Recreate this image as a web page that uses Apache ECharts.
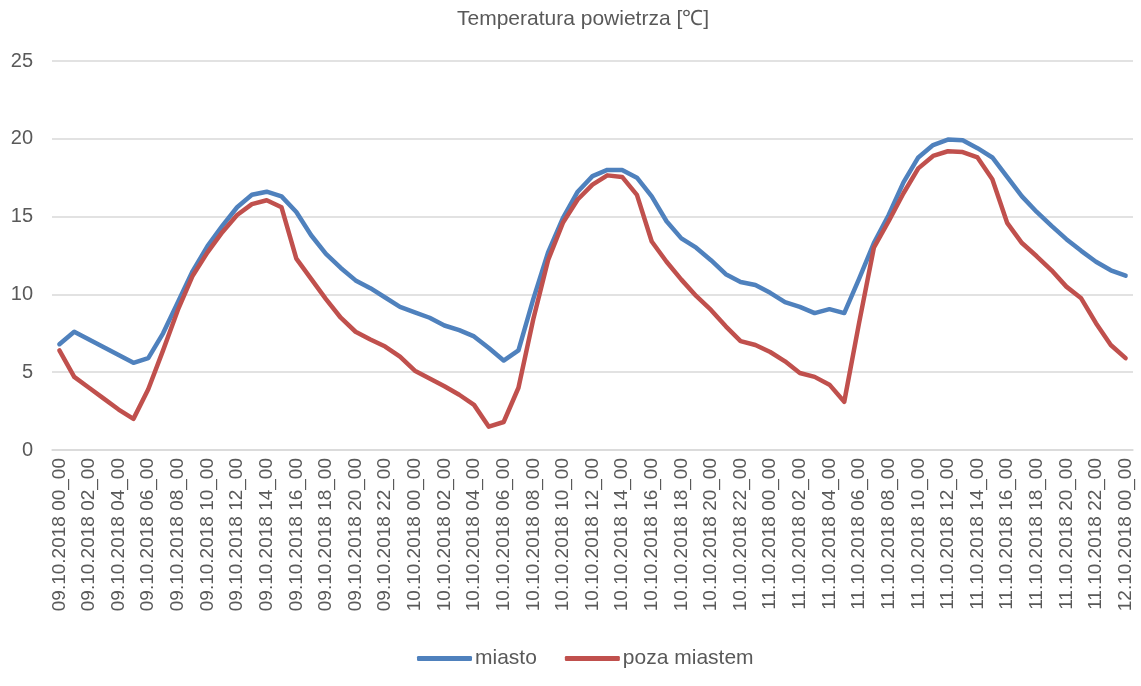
<!DOCTYPE html>
<html>
<head>
<meta charset="utf-8">
<script src="https://cdn.jsdelivr.net/npm/echarts@6/dist/echarts.min.js"></script>
<style>
  html, body { margin: 0; padding: 0; background: #fff; }
  #chart { width: 1141px; height: 686px; }
</style>
</head>
<body>
<div id="chart"></div>
<script>
// godziny pomiarów: 09.10.2018 00_00 ... 12.10.2018 00_00
const days = ["09.10.2018", "10.10.2018", "11.10.2018"];
const hours = [];
days.forEach(d => {
  for (let h = 0; h < 24; h++) {
    hours.push(d + " " + String(h).padStart(2, "0") + "_00");
  }
});
hours.push("12.10.2018 00_00");

// temperatura w mieście
const miasto = [
  6.8, 7.6, 7.1, 6.6, 6.1, 5.6, 5.9, 7.5, 9.5, 11.5, 13.1, 14.4,
  15.6, 16.4, 16.6, 16.3, 15.3, 13.8, 12.6, 11.7, 10.9, 10.4, 9.8, 9.2,
  8.85, 8.5, 8.0, 7.7, 7.3, 6.55, 5.75, 6.4, 9.7, 12.7, 14.9, 16.6,
  17.6, 18.0, 18.0, 17.5, 16.3, 14.7, 13.6, 13.0, 12.2, 11.3, 10.8, 10.6,
  10.1, 9.5, 9.2, 8.8, 9.05, 8.8, 11.0, 13.3, 15.1, 17.2, 18.8, 19.6,
  19.95, 19.9, 19.4, 18.8, 17.55, 16.3, 15.3, 14.4, 13.55, 12.8, 12.1, 11.55,
  11.2
];

// temperatura poza miastem
const pozaMiastem = [
  6.4, 4.7, 4.0, 3.3, 2.6, 2.0, 3.9, 6.4, 9.0, 11.2, 12.7, 14.0,
  15.1, 15.8, 16.05, 15.6, 12.3, 11.0, 9.7, 8.5, 7.6, 7.1, 6.65, 6.0,
  5.1, 4.6, 4.1, 3.55, 2.9, 1.5, 1.8, 4.0, 8.4, 12.2, 14.6, 16.1,
  17.05, 17.65, 17.55, 16.4, 13.4, 12.1, 10.95, 9.9, 9.0, 7.95, 7.0, 6.75,
  6.3, 5.7, 4.95, 4.7, 4.2, 3.1, 8.15, 13.0, 14.7, 16.5, 18.1, 18.9,
  19.2, 19.15, 18.8, 17.4, 14.6, 13.3, 12.45, 11.55, 10.5, 9.75, 8.15, 6.75,
  5.9
];

const yTicks = [0, 5, 10, 15, 20, 25];

const chart = echarts.init(document.getElementById("chart"));
const txt = "#595959";
const font = "Liberation Sans, Arial, sans-serif";

chart.setOption({
  animation: false,
  textStyle: { fontFamily: font },
  title: {
    text: "Temperatura powietrza [℃]",
    left: 452,
    top: 4,
    textStyle: { fontSize: 21, fontWeight: "normal", color: txt, fontFamily: font }
  },
  legend: {
    bottom: 12,
    left: 412,
    itemWidth: 55,
    itemHeight: 5,
    itemGap: 28,
    icon: "roundRect",
    textStyle: { fontSize: 21, color: txt, fontFamily: font, padding: [0, 0, 0, -2] },
    data: ["miasto", "poza miastem"]
  },
  grid: { left: 52, right: 8, top: 61, bottom: 236 },
  xAxis: {
    type: "category",
    data: hours,
    boundaryGap: true,
    axisLine: { lineStyle: { color: "#d9d9d9", width: 1.5 } },
    axisTick: { show: false },
    axisLabel: {
      interval: 1,
      rotate: 90,
      color: txt,
      fontSize: 19,
      fontFamily: font,
      margin: 8
    }
  },
  yAxis: {
    type: "value",
    min: yTicks[0],
    max: yTicks[yTicks.length - 1],
    interval: 5,
    axisLine: { show: false },
    axisTick: { show: false },
    axisLabel: { color: txt, fontSize: 20, fontFamily: font, margin: 19 },
    splitLine: { lineStyle: { color: "#d9d9d9", width: 1.5 } }
  },
  series: [
    {
      name: "miasto",
      type: "line",
      data: miasto,
      symbol: "none",
      color: "#4f81bd",
      lineStyle: { width: 4.5, cap: "round", join: "round" }
    },
    {
      name: "poza miastem",
      type: "line",
      data: pozaMiastem,
      symbol: "none",
      color: "#c0504d",
      lineStyle: { width: 4.5, cap: "round", join: "round" }
    }
  ]
});
</script>
</body>
</html>
